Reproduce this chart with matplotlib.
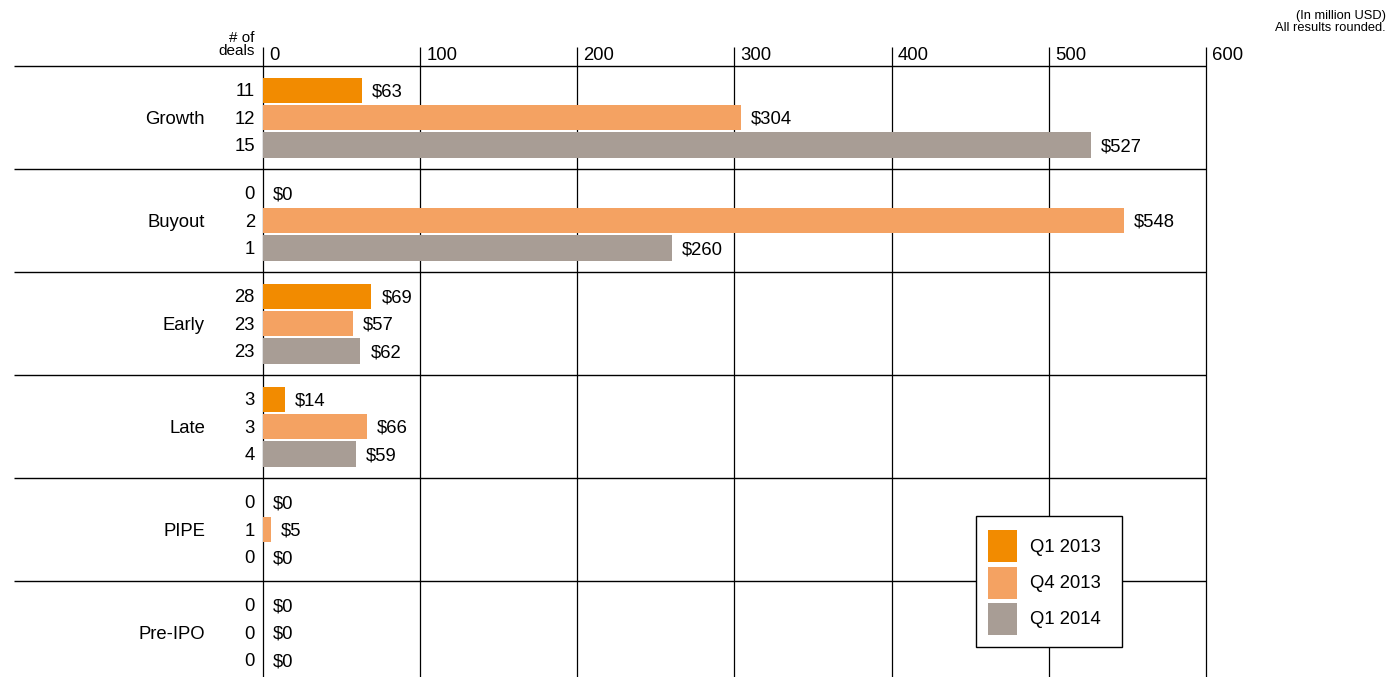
import numpy as np
import matplotlib
matplotlib.use("Agg")
import matplotlib.pyplot as plt
from matplotlib.patches import Rectangle

plt.rcParams['font.family'] = ['Liberation Sans', 'DejaVu Sans']

# data
categories = ["Growth", "Buyout", "Early", "Late", "PIPE", "Pre-IPO"]
series = ["Q1 2013", "Q4 2013", "Q1 2014"]
colors = ["#F28B00", "#F4A262", "#A89D95"]
amounts = {
    "Q1 2013": [63, 0, 69, 14, 0, 0],
    "Q4 2013": [304, 548, 57, 66, 5, 0],
    "Q1 2014": [527, 260, 62, 59, 0, 0],
}
deals = {
    "Q1 2013": [11, 0, 28, 3, 0, 0],
    "Q4 2013": [12, 2, 23, 3, 1, 0],
    "Q1 2014": [15, 1, 23, 4, 0, 0],
}
xticks = [0, 100, 200, 300, 400, 500, 600]

W, H = 1389, 677
fig = plt.figure(figsize=(W / 100, H / 100), dpi=100)
FS = 13.3

# pixel layout
x0_px, x600_px = 263, 1206
left_px = 14
top_px = 47
sep0_px, group_px = 66, 103
ppu = (x600_px - x0_px) / 600.0
xmin = (left_px - x0_px) / ppu

ax = fig.add_axes([left_px / W, 0, (x600_px - left_px) / W, (H - top_px) / H])
ax.set_xlim(xmin, 600)
ax.set_ylim((H - sep0_px) / group_px, (top_px - sep0_px) / group_px)
ax.axis("off")

def px(dx):
    return dx / ppu

offsets = [0.235, 0.503, 0.768]
bh = 0.245
tdy = 1.5 / group_px  # small text nudge downward
y = np.arange(len(categories))

for i, s in enumerate(series):
    yy = y + offsets[i]
    ax.barh(yy, amounts[s], height=bh, color=colors[i], zorder=3)
    for yv, v, d in zip(yy, amounts[s], deals[s]):
        ax.text(v + px(10), yv + tdy, f"${v}", va="center", ha="left", fontsize=FS, zorder=4)
        ax.text(px(-8), yv + tdy, str(d), va="center", ha="right", fontsize=FS)

for yv, c in zip(y, categories):
    ax.text(px(205 - x0_px), yv + offsets[1] + tdy, c, va="center", ha="right", fontsize=FS)

# separators
ax.hlines(np.arange(len(categories)), xmin, 600, color="black", lw=1.0, zorder=2)

# vertical grid lines
ax.vlines(xticks, ax.get_ylim()[1], ax.get_ylim()[0], color="black", lw=0.9, zorder=2,
          clip_on=False)
for t in xticks:
    ax.text(t + px(6), (56 - sep0_px) / group_px, str(t), va="center", ha="left", fontsize=FS)

ax.text(px(-8), (31 - sep0_px) / group_px, "# of\ndeals", va="top", ha="right",
        fontsize=11, linespacing=0.95)

fig.text(1386 / W, 1 - 10 / H, "(In million USD)\nAll results rounded.", ha="right", va="top",
         fontsize=9.3, linespacing=0.95)

# legend box drawn in figure pixels
def fx(p):
    return p / W

def fy(p):
    return 1 - p / H

fig.patches.append(Rectangle((fx(976), fy(647)), fx(1122 - 976), (647 - 516) / H,
                             transform=fig.transFigure, facecolor="white",
                             edgecolor="black", lw=1.0, zorder=5))
sw_top = [530, 567, 603]
for c, s, t in zip(colors, series, sw_top):
    fig.patches.append(Rectangle((fx(988), fy(t + 32)), fx(29), 32 / H,
                                 transform=fig.transFigure, facecolor=c,
                                 edgecolor="none", zorder=6))
    fig.text(fx(1030), fy(t + 17), s, ha="left", va="center", fontsize=FS, zorder=7)

fig.savefig("out.png", dpi=100)
